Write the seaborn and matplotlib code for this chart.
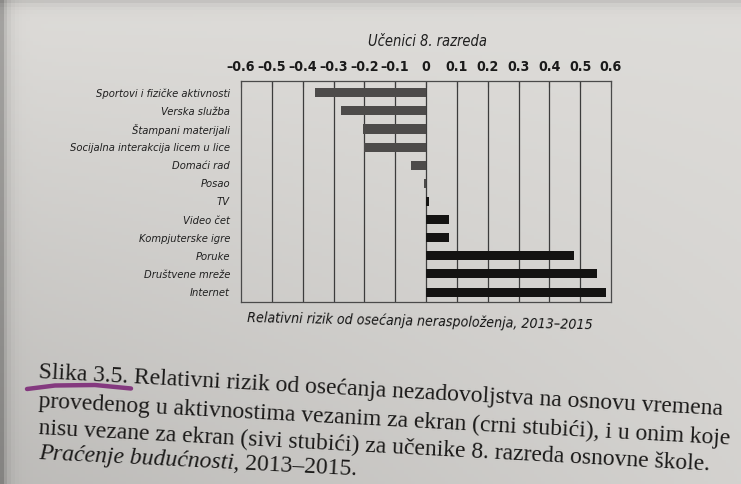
import matplotlib
matplotlib.use("Agg")
import numpy as np
import pandas as pd
import matplotlib.pyplot as plt
import seaborn as sns
from matplotlib.lines import Line2D

# ---------------- data ----------------
categories = [
    "Sportovi i fizičke aktivnosti",
    "Verska služba",
    "Štampani materijali",
    "Socijalna interakcija licem u lice",
    "Domaći rad",
    "Posao",
    "TV",
    "Video čet",
    "Kompjuterske igre",
    "Poruke",
    "Društvene mreže",
    "Internet",
]
values = [-0.36, -0.275, -0.205, -0.20, -0.05, -0.006, 0.01, 0.075, 0.075, 0.48, 0.555, 0.585]
groups = ["nije ekran"] * 6 + ["ekran"] * 6
x_ticks = [-0.6, -0.5, -0.4, -0.3, -0.2, -0.1, 0, 0.1, 0.2, 0.3, 0.4, 0.5, 0.6]
x_tick_labels = ["–0.6", "–0.5", "–0.4", "–0.3", "–0.2", "–0.1", "0",
                 "0.1", "0.2", "0.3", "0.4", "0.5", "0.6"]

title_text = "Učenici 8. razreda"
xlabel_text = "Relativni rizik od osećanja neraspoloženja, 2013–2015"
caption_lines = [
    "Slika 3.5. Relativni rizik od osećanja nezadovoljstva na osnovu vremena",
    "provedenog u aktivnostima vezanim za ekran (crni stubići), i u onim koje",
    "nisu vezane za ekran (sivi stubići) za učenike 8. razreda osnovne škole.",
]
caption_last_italic = "Praćenje budućnosti"
caption_last_regular = ", 2013–2015."

palette = {"nije ekran": "#4d4b4a", "ekran": "#141312"}

# ---------------- style ----------------
sns.set_theme(style="white")
SANS = ["DejaVu Sans", "Liberation Sans"]
SERIF = ["Liberation Serif", "DejaVu Serif"]
plt.rcParams["font.family"] = SANS
plt.rcParams["font.stretch"] = "condensed"

W, H = 741, 484
fig = plt.figure(figsize=(W / 100, H / 100), dpi=100, facecolor="#d6d4d1")

# photographed paper background (gentle shading)
bg = fig.add_axes([0, 0, 1, 1], zorder=-10)
bg.axis("off")
gx = np.linspace(0, 1, 200)[None, :]
gy = np.linspace(0, 1, 140)[:, None]
shade = 0.87 - 0.09 * (1 - gx) * gy - 0.04 * gy
shade = shade - 0.22 * np.exp(-gx / 0.008) - 0.10 * np.exp(-gy / 0.012)
rgb = np.dstack([shade, shade * 0.992, shade * 0.978])
bg.imshow(np.clip(rgb, 0, 1), extent=[0, 1, 0, 1], aspect="auto", origin="upper")
bg.set_xlim(0, 1)
bg.set_ylim(0, 1)


def fx(px):
    return px / W


def fy(py):
    return 1 - py / H


# ---------------- chart ----------------
ax_left, ax_right, ax_top, ax_bottom = 241, 611, 81, 302
ax = fig.add_axes([fx(ax_left), fy(ax_bottom), (ax_right - ax_left) / W, (ax_bottom - ax_top) / H])
ax.set_facecolor("none")

df = pd.DataFrame({"kategorija": categories, "rizik": values, "grupa": groups})
sns.barplot(data=df, y="kategorija", x="rizik", hue="grupa", palette=palette,
            dodge=False, width=0.5, orient="h", legend=False, saturation=1,
            order=categories, ax=ax, zorder=3, linewidth=0)

ax.set_xlim(-0.6, 0.6)
ax.set_ylim(11.55, -0.65)
ax.set_xticks(x_ticks)
ax.set_xticklabels(x_tick_labels, fontsize=10.2, fontweight="bold", color="#1a1a1a")
ax.xaxis.tick_top()
ax.tick_params(axis="x", direction="in", length=4, width=0.8, color="#444444", pad=5, top=True, bottom=False)
ax.tick_params(axis="y", length=0, pad=8)
for lbl in ax.get_yticklabels():
    lbl.set_fontsize(8.0)
    lbl.set_fontstyle("italic")
    lbl.set_color("#1f1f1f")
ax.set_xlabel("")
ax.set_ylabel("")
for x in x_ticks[1:-1]:
    ax.axvline(x, color="#3c3c3c", lw=0.9, zorder=1)
for s in ax.spines.values():
    s.set_color("#4a4a4a")
    s.set_linewidth(0.9)

fig.text(fx(427), fy(42), title_text, fontsize=10.5, fontstyle="italic",
         ha="center", va="center", color="#1f1f1f")
fig.text(fx(420), fy(321), xlabel_text, fontsize=10.2, fontstyle="italic",
         ha="center", va="center", color="#151515", rotation=-1.2, rotation_mode="anchor")

# ---------------- caption ----------------
angle = -3.1
baselines = [378, 407, 434]
for text, yb in zip(caption_lines, baselines):
    fig.text(fx(38), fy(yb), text, fontsize=17, family=SERIF, color="#1b1a19",
             fontstretch="normal", ha="left", va="baseline", rotation=angle, rotation_mode="anchor")

renderer = fig.canvas.get_renderer()
a2 = -2.9
t_it = fig.text(fx(38), fy(459), caption_last_italic, fontsize=17, family=SERIF,
                fontstyle="italic", color="#1b1a19", ha="left", va="baseline")
w_it = t_it.get_window_extent(renderer).width
t_it.set_rotation(a2)
t_it.set_rotation_mode("anchor")
x2 = 38 + w_it * np.cos(np.deg2rad(a2))
y2 = 459 - w_it * np.sin(np.deg2rad(a2))
fig.text(fx(x2), fy(y2), caption_last_regular, fontsize=17, family=SERIF,
         color="#1b1a19", ha="left", va="baseline", rotation=a2, rotation_mode="anchor")

# hand-drawn marker underline
fig.add_artist(Line2D([fx(27), fx(55), fx(95), fx(131)], [fy(389), fy(385.5), fy(385), fy(388.5)],
                      color="#7d2a78", lw=3.2, solid_capstyle="round", alpha=0.9))

fig.savefig("out.png", dpi=100, facecolor=fig.get_facecolor())
